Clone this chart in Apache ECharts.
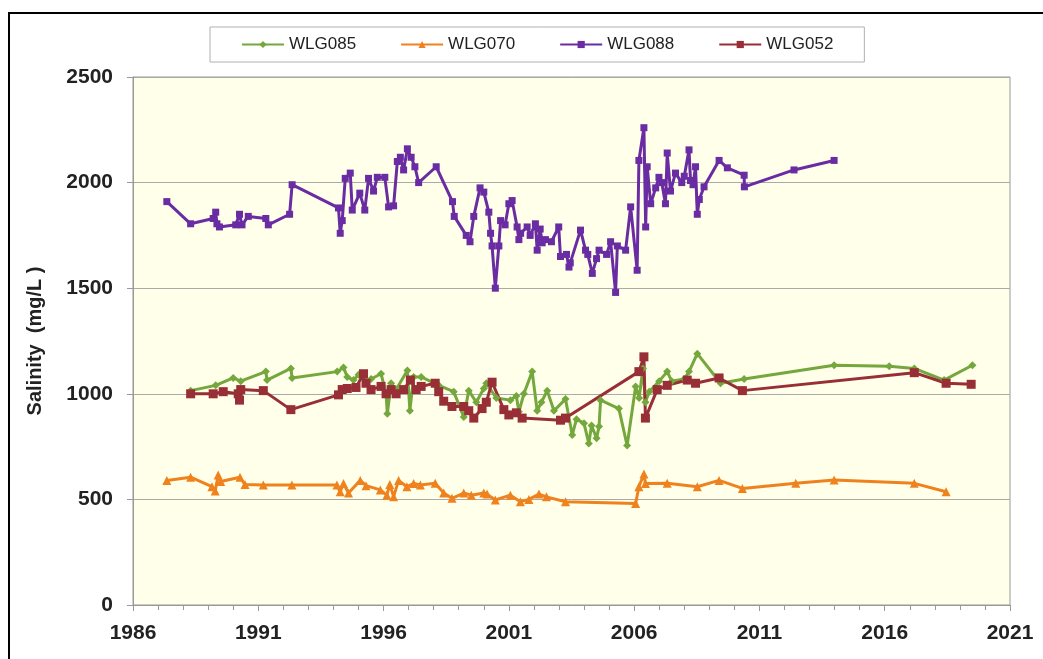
<!DOCTYPE html>
<html>
<head>
<meta charset="utf-8">
<script src="https://cdn.jsdelivr.net/npm/echarts@6/dist/echarts.min.js"></script>
<style>
  html, body { margin: 0; padding: 0; background: #fff; }
  #chart { width: 1043px; height: 659px; }
</style>
</head>
<body>
<div id="chart"></div>
<script>
// [year, salinity mg/L]
const wlg085 = [
  [1988.3, 1015], [1989.3, 1040], [1990.0, 1075], [1990.3, 1060], [1991.3, 1105], [1991.35, 1065],
  [1992.3, 1120], [1992.35, 1075], [1994.15, 1105], [1994.4, 1125], [1994.55, 1080], [1994.8, 1065],
  [1995.0, 1090], [1995.3, 1060], [1995.5, 1070], [1995.9, 1095], [1996.1, 1000], [1996.15, 905],
  [1996.3, 1050], [1996.5, 1020], [1996.95, 1110], [1997.05, 920], [1997.2, 1080], [1997.5, 1080],
  [1998.2, 1040], [1998.8, 1010], [1999.2, 890], [1999.4, 1015], [1999.7, 960], [2000.0, 1025],
  [2000.1, 1050], [2000.5, 980], [2001.06, 970], [2001.3, 990], [2001.4, 915], [2001.6, 1000],
  [2001.93, 1105], [2002.13, 920], [2002.3, 960], [2002.53, 1015], [2002.8, 920], [2003.26, 975],
  [2003.53, 805], [2003.7, 880], [2004.0, 860], [2004.19, 765], [2004.3, 850], [2004.5, 790],
  [2004.6, 845], [2004.66, 970], [2005.39, 930], [2005.72, 755], [2006.06, 1035], [2006.2, 980],
  [2006.35, 1120], [2006.45, 960], [2006.6, 1010], [2007.0, 1060], [2007.32, 1105], [2007.5, 1060],
  [2008.0, 1070], [2008.19, 1105], [2008.52, 1190], [2009.45, 1050], [2010.39, 1070],
  [2013.98, 1135], [2016.18, 1130], [2017.18, 1120], [2018.37, 1065], [2019.5, 1135]
];
const wlg070 = [
  [1987.35, 590], [1988.3, 605], [1989.15, 560], [1989.28, 540], [1989.4, 615], [1989.5, 585],
  [1990.27, 605], [1990.47, 570], [1991.2, 568], [1992.34, 568], [1994.14, 568], [1994.27, 536],
  [1994.4, 575], [1994.6, 530], [1995.07, 590], [1995.3, 565], [1995.87, 545], [1996.13, 520],
  [1996.25, 570], [1996.4, 513], [1996.6, 590], [1996.93, 560], [1997.2, 575], [1997.47, 568],
  [1998.06, 576], [1998.4, 530], [1998.73, 505], [1999.2, 530], [1999.5, 520], [2000.0, 530],
  [2000.13, 525], [2000.46, 497], [2001.06, 520], [2001.46, 489], [2001.8, 500], [2002.2, 525],
  [2002.5, 512], [2003.26, 489], [2006.06, 481], [2006.19, 560], [2006.39, 620], [2006.45, 575],
  [2007.32, 576], [2008.52, 560], [2009.39, 590], [2010.32, 552], [2012.45, 576], [2013.98, 592],
  [2017.18, 576], [2018.45, 536]
];
const wlg088 = [
  [1987.35, 1910], [1988.3, 1805], [1989.2, 1830], [1989.3, 1860], [1989.35, 1805], [1989.45, 1790],
  [1990.1, 1800], [1990.25, 1850], [1990.35, 1800], [1990.6, 1840], [1991.3, 1830], [1991.4, 1800],
  [1992.25, 1850], [1992.35, 1990], [1994.2, 1880], [1994.27, 1760], [1994.35, 1820], [1994.47, 2020],
  [1994.67, 2045], [1994.75, 1870], [1995.05, 1950], [1995.25, 1870], [1995.4, 2020], [1995.6, 1960],
  [1995.75, 2025], [1996.05, 2025], [1996.2, 1885], [1996.4, 1890], [1996.55, 2100], [1996.67, 2120],
  [1996.8, 2060], [1996.95, 2160], [1997.1, 2120], [1997.25, 2075], [1997.4, 2000], [1998.1, 2075],
  [1998.75, 1910], [1998.82, 1840], [1999.3, 1750], [1999.45, 1720], [1999.6, 1840], [1999.85, 1975],
  [2000.0, 1955], [2000.2, 1860], [2000.27, 1760], [2000.33, 1700], [2000.46, 1500], [2000.6, 1700],
  [2000.67, 1820], [2000.85, 1800], [2001.0, 1900], [2001.13, 1915], [2001.33, 1790], [2001.4, 1730],
  [2001.47, 1760], [2001.73, 1790], [2001.85, 1750], [2002.06, 1805], [2002.13, 1680], [2002.25, 1780],
  [2002.33, 1715], [2002.46, 1730], [2002.7, 1720], [2002.99, 1790], [2003.06, 1650], [2003.3, 1660],
  [2003.4, 1600], [2003.45, 1620], [2003.86, 1775], [2004.06, 1680], [2004.15, 1660], [2004.33, 1570],
  [2004.5, 1640], [2004.6, 1680], [2004.9, 1660], [2005.06, 1720], [2005.26, 1480], [2005.33, 1700],
  [2005.66, 1680], [2005.86, 1885], [2006.12, 1585], [2006.19, 2105], [2006.39, 2260], [2006.46, 1790],
  [2006.52, 2075], [2006.66, 1900], [2006.86, 1975], [2006.99, 2025], [2007.1, 2000], [2007.25, 1900],
  [2007.32, 2140], [2007.45, 1960], [2007.65, 2045], [2007.9, 2000], [2008.0, 2030], [2008.19, 2155],
  [2008.25, 2010], [2008.35, 1990], [2008.45, 2075], [2008.52, 1850], [2008.6, 1920], [2008.79, 1980],
  [2009.39, 2105], [2009.72, 2070], [2010.39, 2035], [2010.4, 1980], [2012.38, 2060], [2013.98, 2105]
];
const wlg052 = [
  [1988.3, 1000], [1989.2, 1000], [1989.6, 1010], [1990.2, 1000], [1990.25, 970], [1990.3, 1020],
  [1991.2, 1015], [1992.3, 925], [1994.2, 995], [1994.35, 1020], [1994.55, 1025], [1994.9, 1030],
  [1995.2, 1095], [1995.3, 1050], [1995.5, 1020], [1995.9, 1035], [1996.1, 1000], [1996.3, 1020],
  [1996.5, 1000], [1996.8, 1020], [1997.07, 1065], [1997.3, 1020], [1997.5, 1035], [1998.06, 1050],
  [1998.2, 1010], [1998.4, 965], [1998.73, 940], [1999.2, 940], [1999.4, 920], [1999.6, 885],
  [1999.93, 930], [2000.1, 960], [2000.33, 1055], [2000.8, 925], [2001.0, 900], [2001.3, 910],
  [2001.53, 885], [2003.06, 875], [2003.26, 885], [2006.19, 1105], [2006.39, 1175], [2006.45, 885],
  [2006.92, 1020], [2007.32, 1040], [2008.12, 1065], [2008.45, 1050], [2009.39, 1075], [2010.32, 1015],
  [2017.18, 1100], [2018.45, 1050], [2019.45, 1045]
];

const seriesNames = ["WLG085", "WLG070", "WLG088", "WLG052"];
const colors = ["#74A73C", "#F0821E", "#6A2CA2", "#982E36"];

const font = "'Liberation Sans', Arial, sans-serif";
let chart = echarts.init(document.getElementById("chart"));

function makeSeries(i, data, symbol, size) {
  return {
    name: seriesNames[i],
    type: "line",
    data: data,
    symbol: symbol,
    symbolSize: size,
    showSymbol: true,
    itemStyle: { color: colors[i] },
    lineStyle: { color: colors[i], width: 3 },
    animation: false
  };
}

let option = {
  backgroundColor: "#fff",
  textStyle: { fontFamily: font },
  graphic: [
    {
      type: "rect",
      shape: { x: 9, y: 13, width: 1200, height: 800 },
      style: { fill: "none", stroke: "#000", lineWidth: 2 },
      silent: true
    }
  ],
  legend: {
    data: seriesNames,
    left: 210,
    top: 27,
    itemWidth: 42,
    itemHeight: 9,
    itemGap: 44,
    padding: [9, 31],
    borderColor: "#b0b0b0",
    borderWidth: 1,
    backgroundColor: "#fff",
    textStyle: { fontSize: 17, color: "#222", fontFamily: font }
  },
  grid: {
    left: 133,
    right: 33,
    top: 77,
    bottom: 54,
    show: true,
    backgroundColor: "#FFFFEA",
    borderColor: "#999",
    borderWidth: 1
  },
  xAxis: {
    type: "value",
    min: 1986,
    max: 2021,
    interval: 5,
    axisLine: { lineStyle: { color: "#999", width: 1 } },
    axisTick: { show: true, length: 6, lineStyle: { color: "#999" } },
    minorTick: { show: true, splitNumber: 5, length: 5, lineStyle: { color: "#999" } },
    splitLine: { show: false },
    axisLabel: {
      fontSize: 21,
      fontWeight: "bold",
      color: "#222",
      margin: 18,
      formatter: function (v) { return String(v); }
    }
  },
  yAxis: {
    type: "value",
    min: 0,
    max: 2500,
    interval: 500,
    name: "Salinity  (mg/L )",
    nameLocation: "middle",
    nameGap: 88,
    nameTextStyle: { fontSize: 20, fontWeight: "bold", color: "#222", fontFamily: font },
    axisLine: { show: true, lineStyle: { color: "#999", width: 1 } },
    axisTick: { show: true, length: 6, lineStyle: { color: "#999" } },
    splitLine: { show: true, lineStyle: { color: "#aaa", width: 1 } },
    axisLabel: {
      fontSize: 21,
      fontWeight: "bold",
      color: "#222",
      margin: 20,
      formatter: function (v) { return String(v); }
    }
  },
  series: [
    makeSeries(0, wlg085, "diamond", 8),
    makeSeries(1, wlg070, "triangle", 9),
    makeSeries(2, wlg088, "rect", 7),
    makeSeries(3, wlg052, "rect", 9)
  ]
};
chart.setOption(option);
</script>
</body>
</html>
